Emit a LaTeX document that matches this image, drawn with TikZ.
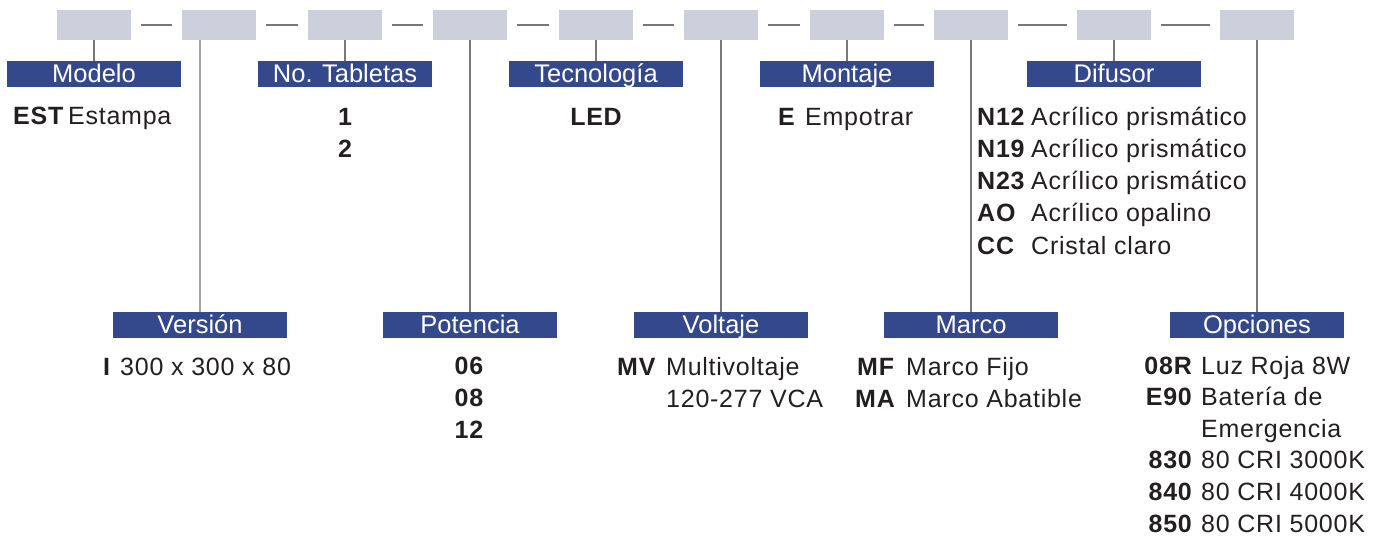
\documentclass[tikz,border=0pt]{standalone}
\usepackage{fontspec}
\setmainfont{Liberation Sans}[LetterSpace=3]
\newfontfamily\labfont{Liberation Sans}
\definecolor{boxgray}{RGB}{205,208,220}
\definecolor{labblue}{RGB}{52,72,140}
\definecolor{txt}{RGB}{35,31,32}
\definecolor{ln}{RGB}{120,120,122}
\begin{document}
\begin{tikzpicture}[x=1pt,y=-1pt,
  codebox/.style={fill=boxgray,draw=none,minimum width=74pt,minimum height=30pt,inner sep=0pt},
  labelbox/.style={fill=labblue,draw=none,text=white,minimum width=174pt,minimum height=26pt,inner sep=0pt,text height=20pt,text depth=4pt,font=\labfont\fontsize{25.5}{28}\selectfont},
  dashln/.style={draw=ln,line width=1.2pt,shorten <=10pt,shorten >=10pt},
  vln/.style={draw=ln,line width=1.4pt},
  tx/.style={inner sep=0pt,anchor=base west,text=txt,font=\fontsize{25}{28}\selectfont},
  txb/.style={tx,font=\fontsize{25}{28}\selectfont\bfseries},
  txc/.style={txb,anchor=base},
  txe/.style={txb,anchor=base east}]
\useasboundingbox (0,0) rectangle (1378,538);
% code boxes
\foreach \i/\x in {1/94,2/219,3/345,4/470,5/596,6/721,7/847,8/971,9/1114,10/1257}
  \node[codebox] (b\i) at (\x,25) {};
\foreach \i [evaluate=\i as \j using int(\i+1)] in {1,...,9}
  \draw[dashln] (b\i.east) -- (b\j.west);
% top labels
\node[labelbox] (lmod) at (94,74) {Modelo};
\node[labelbox] (ltab) at (345,74) {No. Tabletas};
\node[labelbox] (ltec) at (596,74) {Tecnología};
\node[labelbox] (lmon) at (847,74) {Montaje};
\node[labelbox] (ldif) at (1114,74) {Difusor};
% bottom labels
\node[labelbox] (lver) at (200,325) {Versión};
\node[labelbox] (lpot) at (470,325) {Potencia};
\node[labelbox] (lvol) at (721,325) {Voltaje};
\node[labelbox] (lmar) at (971,325) {Marco};
\node[labelbox] (lopc) at (1257,325) {Opciones};
% vertical connectors
\draw[vln] (b1.south) -- (lmod.north);
\draw[vln] (b3.south) -- (ltab.north);
\draw[vln] (b5.south) -- (ltec.north);
\draw[vln] (b7.south) -- (lmon.north);
\draw[vln] (b9.south) -- (ldif.north);
\draw[vln,draw=ln!70] (lver.north |- b2.south) -- (lver.north);
\draw[vln] (b4.south) -- (lpot.north);
\draw[vln] (b6.south) -- (lvol.north);
\draw[vln] (b8.south) -- (lmar.north);
\draw[vln] (b10.south) -- (lopc.north);
% Modelo
\node[txb] (c1) at (13,124) {EST};
\node[tx] (d1) at (68,124) {Estampa};
% Tabletas
\node[txc] (t1) at (345,125) {1};
\node[txc] (t2) at (345,157) {2};
% Tecnologia
\node[txc] (tl) at (596,125) {LED};
% Montaje
\node[txb] (me) at (778,125) {E};
\node[tx] (md) at (805,125) {Empotrar};
% Difusor
\node[txb] (f1) at (977,125) {N12};
\node[tx] (g1) at (1031,125) {Acrílico prismático};
\node[txb] (f2) at (977,157.3) {N19};
\node[tx] (g2) at (1031,157.3) {Acrílico prismático};
\node[txb] (f3) at (977,189.6) {N23};
\node[tx] (g3) at (1031,189.6) {Acrílico prismático};
\node[txb] (f4) at (977,221.9) {AO};
\node[tx] (g4) at (1031,221.9) {Acrílico opalino};
\node[txb] (f5) at (977,254.2) {CC};
\node[tx] (g5) at (1031,254.2) {Cristal claro};
% Version
\node[txb] (vi) at (103,375) {I};
\node[tx] (vd) at (120,375) {300 x 300 x 80};
% Potencia
\node[txc] (p1) at (469,374.5) {06};
\node[txc] (p2) at (469,406.5) {08};
\node[txc] (p3) at (469,438.5) {12};
% Voltaje
\node[txb] (vm) at (617,375) {MV};
\node[tx] (vm1) at (666,375) {Multivoltaje};
\node[tx] (vm2) at (666,407) {120-277 VCA};
% Marco
\node[txb] (mf) at (857,375) {MF};
\node[tx] (mf1) at (906,375) {Marco Fijo};
\node[txb] (ma) at (855,407) {MA};
\node[tx] (ma1) at (906,407) {Marco Abatible};
% Opciones
\node[txe] (o1) at (1192,374) {08R};
\node[tx] (o1d) at (1201,374) {Luz Roja 8W};
\node[txe] (o2) at (1192,405.6) {E90};
\node[tx] (o2d) at (1201,405.6) {Batería de};
\node[tx] (o2e) at (1201,437.2) {Emergencia};
\node[txe] (o3) at (1192,468.8) {830};
\node[tx] (o3d) at (1201,468.8) {80 CRI 3000K};
\node[txe] (o4) at (1192,500.4) {840};
\node[tx] (o4d) at (1201,500.4) {80 CRI 4000K};
\node[txe] (o5) at (1192,532) {850};
\node[tx] (o5d) at (1201,532) {80 CRI 5000K};
\end{tikzpicture}
\end{document}
